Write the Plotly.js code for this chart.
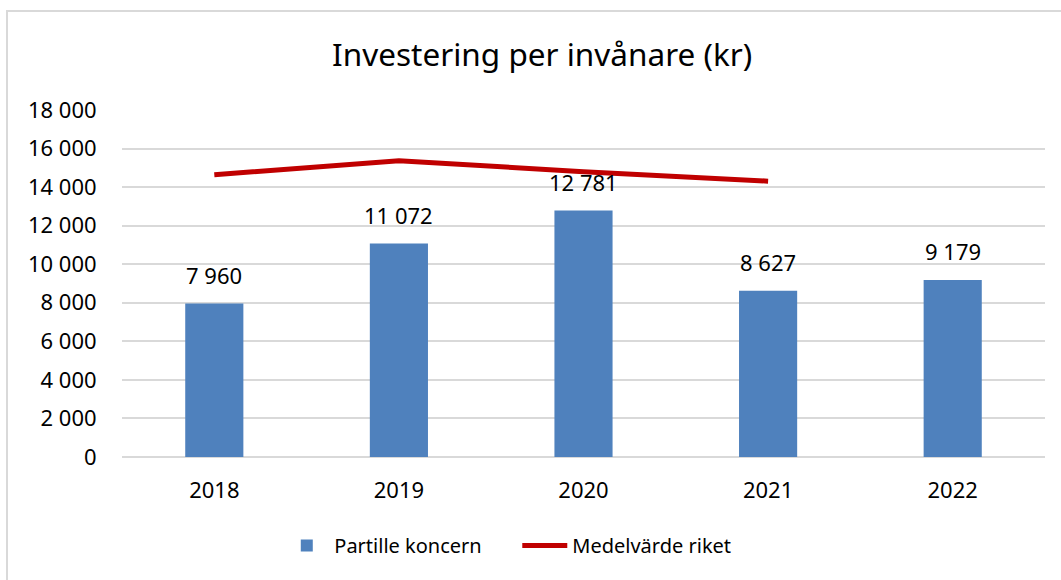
<!DOCTYPE html>
<html>
<head>
<meta charset="utf-8">
<script src="https://cdn.plot.ly/plotly-3.0.1.min.js"></script>
<style>
html,body{margin:0;padding:0;background:#fff;overflow:hidden;}
#wrap{position:relative;width:1061px;height:580px;}
#frame{position:absolute;left:6px;top:10px;width:1100px;height:620px;border:2px solid #D9D9D9;box-sizing:border-box;pointer-events:none;}
#chart{position:absolute;left:0;top:0;width:1061px;height:580px;}
</style>
</head>
<body>
<div id="wrap"><div id="frame"></div><div id="chart"></div></div>
<script>
const years = ["2018", "2019", "2020", "2021", "2022"];
const partilleKoncern = [7960, 11072, 12781, 8627, 9179];
const partilleLabels = ["7 960", "11 072", "12 781", "8 627", "9 179"];
const medelvardeYears = ["2018", "2019", "2020", "2021"];
const medelvardeRiket = [14640, 15370, 14800, 14310];
const yTickVals = [0, 2000, 4000, 6000, 8000, 10000, 12000, 14000, 16000, 18000];
const yTickText = ["0", "2 000", "4 000", "6 000", "8 000", "10 000", "12 000", "14 000", "16 000", "18 000"];

const FONT = "Noto Sans, Open Sans, sans-serif";

const traces = [
  {
    type: "bar",
    name: "Partille koncern",
    x: years,
    y: partilleKoncern,
    marker: {color: "#4F81BD"},
    width: 0.315,
    hoverinfo: "x+y"
  },
  {
    type: "scatter",
    mode: "lines",
    name: "Medelvärde riket",
    x: medelvardeYears,
    y: medelvardeRiket,
    line: {color: "#C00000", width: 5},
    hoverinfo: "x+y"
  }
];

const annotations = years.map((yr, i) => ({
  x: i, y: partilleKoncern[i], xref: "x", yref: "y",
  text: partilleLabels[i], showarrow: false,
  xanchor: "center", yanchor: "bottom", yshift: 12,
  font: {family: FONT, size: 22, color: "#000"}
}));

const layout = {
  width: 1061, height: 580,
  margin: {l: 122, r: 16, t: 110, b: 122.5},
  paper_bgcolor: "rgba(0,0,0,0)", plot_bgcolor: "rgba(0,0,0,0)",
  font: {family: FONT, size: 22, color: "#000"},
  title: {text: "Investering per invånare (kr)", x: 0.511, xanchor: "center", y: 0.905, yanchor: "middle",
          font: {family: FONT, size: 31.5, color: "#000"}},
  xaxis: {
    type: "category",
    categoryorder: "array", categoryarray: years,
    range: [-0.5, 4.5], autorange: false,
    showgrid: false, zeroline: false, showline: false,
    ticks: "outside", ticklen: 14, tickcolor: "rgba(0,0,0,0)",
    tickfont: {family: FONT, size: 22, color: "#000"}
  },
  yaxis: {
    range: [0, 18000], autorange: false,
    tickvals: yTickVals, ticktext: yTickText,
    showgrid: true, gridcolor: "#D9D9D9", gridwidth: 1.5,
    zeroline: true, zerolinecolor: "#D9D9D9", zerolinewidth: 1.5,
    showline: false,
    ticks: "outside", ticklen: 20, tickcolor: "rgba(0,0,0,0)",
    tickfont: {family: FONT, size: 22, color: "#000"}
  },
  showlegend: true,
  legend: {
    orientation: "h", x: 0.1704, xanchor: "left", y: -0.255, yanchor: "middle",
    font: {family: FONT, size: 20, color: "#000"},
    itemwidth: 45, entrywidth: 178, entrywidthmode: "pixels",
    tracegroupgap: 0, bgcolor: "rgba(0,0,0,0)"
  },
  annotations: annotations
};

Plotly.newPlot("chart", traces, layout, {displayModeBar: false, responsive: false});
</script>
</body>
</html>
